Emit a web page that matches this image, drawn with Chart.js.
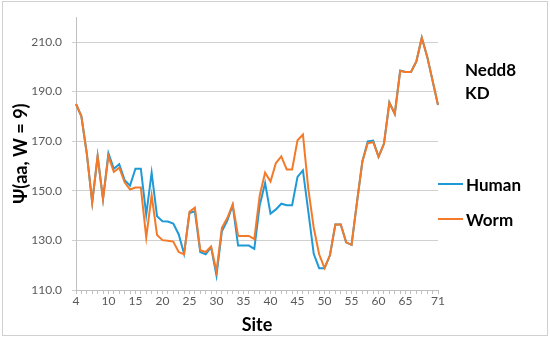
<!DOCTYPE html>
<html>
<head>
<meta charset="utf-8">
<script src="https://cdn.jsdelivr.net/npm/chart.js@4.4.1/dist/chart.umd.min.js"></script>
<style>
  html, body { margin: 0; padding: 0; background: #fff; }
  #wrap { position: relative; width: 550px; height: 340px; font-family: Lato, sans-serif; }
  #frame { position: absolute; left: 2px; top: 1px; width: 544px; height: 333px; border: 1px solid #d0d0d0; pointer-events: none; }
  #note { position: absolute; left: 465px; top: 58px; font-weight: bold; font-size: 17px; line-height: 23px; color: #000; }
  #legend { position: absolute; left: 438px; top: 172px; }
  .item { display: flex; align-items: center; height: 24px; margin-bottom: 11px; font-weight: bold; font-size: 17px; color: #000; }
  .swatch { width: 25px; height: 2px; margin-right: 3px; }
</style>
</head>
<body>
<div id="wrap">
  <canvas id="chartPsi" width="550" height="340"></canvas>
  <div id="frame"></div>
  <div id="note">Nedd8<br>KD</div>
  <div id="legend"></div>
</div>
<script>
const sites = [4, 5, 6, 7, 8, 9, 10, 11, 12, 13, 14, 15, 16, 17, 18, 19, 20, 21, 22, 23,
    24, 25, 26, 27, 28, 29, 30, 31, 32, 33, 34, 35, 36, 37, 38, 39, 40, 41, 42, 43,
    44, 45, 46, 47, 48, 49, 50, 51, 52, 53, 54, 55, 56, 57, 58, 59, 60, 61, 62, 63,
    64, 65, 66, 67, 68, 69, 70, 71];

const human = [185, 180, 165, 145.3, 164, 146.6, 165.2, 158.9, 160.7, 154.3, 152.1, 158.9, 158.9, 140.3, 157.3, 139.7, 137.7, 137.6, 136.8, 132.5,
    124.6, 141.0, 141.7, 125.3, 124.4, 127.3, 115.8, 133.7, 138, 144.2, 127.9, 127.9, 127.9, 126.6, 144.2, 153.1, 140.8, 142.5, 144.8, 144.2,
    144.2, 155.6, 158.2, 141.6, 124.6, 118.8, 118.8, 124, 136.4, 136.4, 129.2, 128.2, 145.3, 161.8, 169.9, 170.2, 163.7, 169, 185.6, 181,
    198.5, 197.9, 197.9, 202.2, 211.7, 204.1, 194.4, 184.6];

const worm = [185, 180, 165, 145.3, 164, 146.6, 164, 157.6, 159.3, 153.4, 150.5, 151.3, 151.3, 131.2, 148.2, 132.2, 130.1, 129.9, 129.5, 125.3,
    124.4, 141.5, 143.2, 126, 125.3, 127.5, 117.5, 135.1, 139, 144.5, 131.8, 131.8, 131.8, 130.5, 148.1, 157.3, 153.7, 161.2, 163.9, 158.6,
    158.6, 170.4, 172.7, 150.8, 135.1, 124.4, 118.8, 124, 136.4, 136.4, 129.2, 128.2, 145.3, 161.8, 169.2, 169.6, 163.7, 169, 185.6, 181,
    198.3, 197.9, 197.9, 202.2, 211.7, 204.1, 194.4, 184.6];

const yTicks = [110, 130, 150, 170, 190, 210];
const shownSites = [4, 10, 15, 20, 25, 30, 35, 40, 45, 50, 55, 60, 65, 71];

const tickColor = '#595959';
const gridColor = '#d0d0d0';

let chart = new Chart(document.getElementById('chartPsi'), {
    type: 'line',
    data: {
        labels: sites,
        datasets: [
            {
                label: 'Human',
                data: human,
                borderColor: '#1f9ad6',
                backgroundColor: '#1f9ad6',
                borderWidth: 2,
                pointRadius: 0,
                tension: 0,
                order: 1,
            },
            {
                label: 'Worm',
                data: worm,
                borderColor: '#f47a2a',
                backgroundColor: '#f47a2a',
                borderWidth: 2,
                pointRadius: 0,
                tension: 0,
                order: 0,
            },
        ],
    },
    options: {
        responsive: false,
        animation: false,
        layout: {
            padding: { left: 2, right: 112, top: 10, bottom: 4 },
        },
        plugins: {
            legend: { display: false },
            tooltip: { enabled: false },
        },
        scales: {
            x: {
                type: 'category',
                offset: false,
                afterFit: function (scale) { scale.height = 46; },
                grid: {
                    drawOnChartArea: false,
                    drawTicks: true,
                    tickLength: 4,
                    color: '#bfbfbf',
                },
                border: { color: '#bfbfbf' },
                ticks: {
                    autoSkip: false,
                    maxRotation: 0,
                    padding: 0,
                    color: tickColor,
                    font: { family: 'Lato', size: 12 },
                    callback: function (value, index) {
                        let site = sites[index];
                        return shownSites.includes(site) ? String(site) : '';
                    },
                },
                title: {
                    display: true,
                    text: 'Site',
                    color: '#000',
                    padding: { top: 4, bottom: 0 },
                    font: { family: 'Lato', size: 18, weight: 'bold' },
                },
            },
            y: {
                min: 110,
                max: 220,
                afterFit: function (scale) { scale.width = 74; },
                afterBuildTicks: function (scale) {
                    scale.ticks = yTicks.map(v => ({ value: v }));
                },
                grid: {
                    color: gridColor,
                    tickLength: 4,
                },
                border: { color: '#bfbfbf' },
                ticks: {
                    padding: 10,
                    color: tickColor,
                    font: { family: 'Lato', size: 12 },
                    callback: function (value) { return Number(value).toFixed(1); },
                },
                title: {
                    display: true,
                    text: 'Ψ(aa, W = 9)',
                    color: '#000',
                    padding: { top: 8, bottom: 0 },
                    font: { family: 'Lato', size: 18, weight: 'bold' },
                },
            },
        },
    },
});

// legend built from the chart's own datasets
let legend = document.getElementById('legend');
chart.data.datasets.forEach(function (ds) {
    let item = document.createElement('div');
    item.className = 'item';
    let swatch = document.createElement('span');
    swatch.className = 'swatch';
    swatch.style.background = ds.borderColor;
    item.appendChild(swatch);
    item.appendChild(document.createTextNode(ds.label));
    legend.appendChild(item);
});
</script>
</body>
</html>
